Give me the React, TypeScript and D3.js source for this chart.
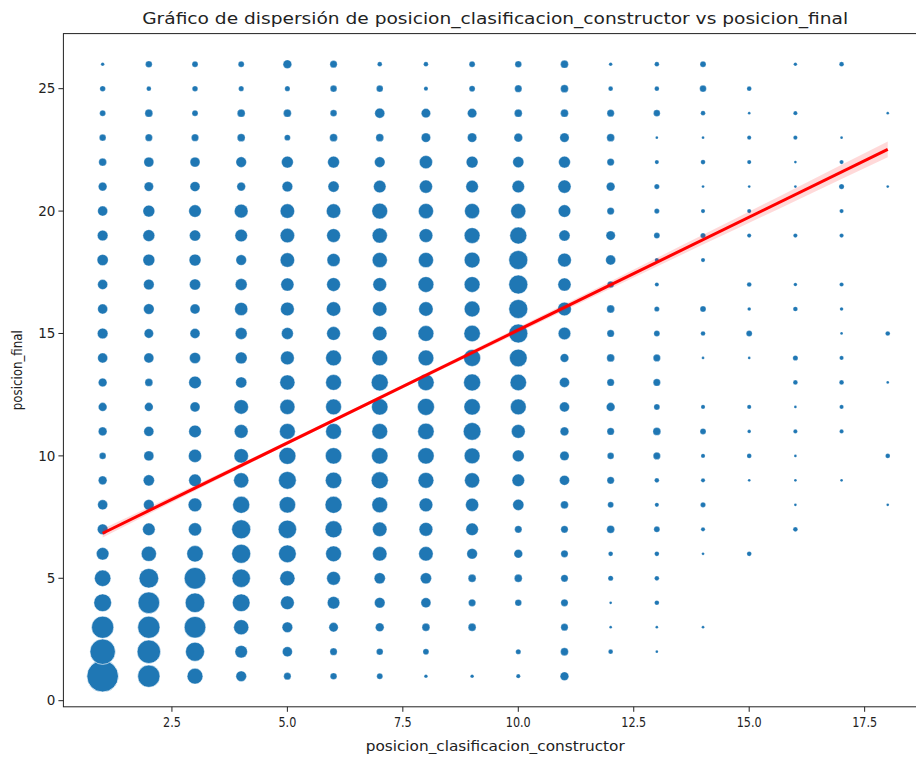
import React from "react";
import * as d3 from "d3";

// Grid of observed values
const xValues = [1, 2, 3, 4, 5, 6, 7, 8, 9, 10, 11, 12, 13, 14, 15, 16, 17, 18];
const yValues = [1, 2, 3, 4, 5, 6, 7, 8, 9, 10, 11, 12, 13, 14, 15, 16, 17, 18, 19, 20, 21, 22, 23, 24, 25, 26];

// Number of records per (posicion_clasificacion_constructor, posicion_final);
// one row per constructor position, columns are posicion_final 1..26
const countsByX: number[][] = [
  [251, 160, 121, 75, 64, 36, 25, 22, 16, 9, 16, 16, 16, 22, 25, 22, 22, 28, 25, 22, 16, 13, 9, 7, 6, 2],
  [121, 136, 121, 114, 93, 54, 36, 25, 28, 22, 22, 16, 13, 22, 19, 25, 25, 32, 32, 32, 19, 22, 11, 13, 4, 9],
  [59, 87, 114, 93, 114, 64, 40, 44, 36, 40, 36, 22, 36, 28, 22, 22, 28, 32, 28, 36, 22, 22, 11, 7, 6, 7],
  [25, 36, 54, 75, 81, 87, 87, 69, 54, 49, 44, 49, 28, 32, 32, 40, 32, 25, 36, 44, 16, 25, 13, 13, 5, 7],
  [11, 22, 25, 44, 54, 75, 81, 64, 75, 69, 59, 54, 54, 44, 32, 44, 40, 49, 49, 49, 25, 32, 7, 13, 5, 16],
  [9, 11, 19, 36, 44, 59, 69, 69, 64, 64, 59, 59, 59, 59, 44, 49, 44, 40, 44, 49, 28, 32, 13, 9, 9, 11],
  [7, 9, 16, 25, 28, 49, 49, 59, 69, 64, 59, 64, 69, 59, 49, 49, 44, 54, 54, 59, 36, 25, 13, 22, 9, 4],
  [2, 7, 13, 22, 28, 49, 44, 44, 59, 64, 64, 69, 64, 59, 59, 49, 59, 54, 44, 54, 40, 40, 19, 19, 3, 4],
  [2, 0, 13, 11, 13, 25, 36, 40, 54, 59, 75, 64, 69, 69, 64, 59, 59, 59, 59, 54, 36, 32, 19, 19, 7, 7],
  [3, 5, 0, 9, 13, 16, 11, 28, 36, 32, 44, 59, 64, 75, 87, 87, 87, 87, 69, 54, 36, 28, 16, 13, 11, 9],
  [16, 13, 11, 11, 11, 11, 11, 13, 22, 19, 16, 22, 22, 16, 36, 44, 40, 44, 28, 36, 40, 32, 19, 13, 13, 13],
  [0, 4, 1, 1, 5, 4, 13, 7, 11, 9, 11, 16, 11, 13, 11, 13, 9, 22, 19, 11, 16, 11, 13, 11, 4, 2],
  [0, 1, 1, 4, 4, 4, 7, 3, 4, 11, 13, 7, 11, 11, 7, 5, 3, 3, 7, 5, 5, 3, 1, 9, 4, 4],
  [0, 0, 1, 0, 0, 1, 3, 5, 3, 3, 7, 3, 0, 1, 4, 7, 0, 3, 5, 3, 1, 4, 1, 4, 9, 7],
  [0, 0, 0, 0, 0, 4, 0, 0, 1, 4, 2, 3, 0, 1, 7, 2, 4, 0, 3, 3, 1, 3, 3, 1, 4, 0],
  [0, 0, 0, 0, 0, 0, 4, 1, 1, 1, 3, 1, 4, 5, 0, 4, 2, 0, 3, 0, 1, 1, 3, 3, 0, 2],
  [0, 0, 0, 0, 0, 0, 0, 0, 1, 0, 3, 3, 4, 3, 1, 2, 3, 0, 3, 3, 5, 3, 1, 0, 0, 4],
  [0, 0, 0, 0, 0, 0, 0, 1, 0, 4, 0, 0, 1, 0, 4, 0, 0, 0, 0, 0, 1, 0, 0, 1, 0, 0],
];

// Linear fit and its confidence band half-width along x
const fitSlope = 0.9224;
const fitIntercept = 5.918;
const ciX = [1, 2, 4, 6, 8, 10, 12, 14, 16, 18];
const ciHalf = [0.17, 0.14, 0.09, 0.07, 0.08, 0.11, 0.15, 0.2, 0.26, 0.32];

const xTicks = [2.5, 5.0, 7.5, 10.0, 12.5, 15.0, 17.5];
const yTicks = [0, 5, 10, 15, 20, 25];

const TITLE = "Gráfico de dispersión de posicion_clasificacion_constructor vs posicion_final";
const X_LABEL = "posicion_clasificacion_constructor";
const Y_LABEL = "posicion_final";

const W = 916;
const H = 757;
const left = 63.4;
const right = 927;
const top = 33.6;
const bottom = 706.8;

export default function App() {
  const x = d3.scaleLinear().domain([0.15, 18.85]).range([left, right]);
  const y = d3.scaleLinear().domain([-0.25, 27.25]).range([bottom, top]);
  const r = d3.scaleSqrt().domain([0, 250]).range([0.4, 15.8]);

  const points: { xv: number; yv: number; n: number }[] = [];
  xValues.forEach((xv, i) => {
    yValues.forEach((yv, j) => {
      const n = countsByX[i][j];
      if (n > 0) points.push({ xv, yv, n });
    });
  });

  const fit = (v: number) => fitIntercept + fitSlope * v;
  const band = d3
    .area<number>()
    .x((v) => x(v))
    .y0((v, i) => y(fit(v) - ciHalf[i]))
    .y1((v, i) => y(fit(v) + ciHalf[i]))
    .curve(d3.curveMonotoneX);
  const line = d3
    .line<number>()
    .x((v) => x(v))
    .y((v) => y(fit(v)));

  const font = "'DejaVu Sans', sans-serif";

  return (
    <svg
      width={W}
      height={H}
      style={{ position: "absolute", left: 0, top: 0, background: "#fff" }}
      fontFamily={font}
    >
      <defs>
        <clipPath id="plot-area">
          <rect x={left} y={top} width={right - left} height={bottom - top} />
        </clipPath>
      </defs>

      <g clipPath="url(#plot-area)">
        {points.map((p, k) => {
          const rad = r(p.n);
          return (
            <circle
              key={k}
              cx={x(p.xv)}
              cy={y(p.yv)}
              r={rad}
              fill="#1f77b4"
              stroke="#fff"
              strokeWidth={Math.min(0.8, 0.12 + rad * 0.04)}
            />
          );
        })}
        <path d={band(ciX) || ""} fill="rgba(255,0,0,0.15)" stroke="none" />
        <path d={line([xValues[0], xValues[xValues.length - 1]]) || ""} stroke="#ff0000" strokeWidth={3} fill="none" />
      </g>

      {/* frame */}
      <rect x={left} y={top} width={right - left} height={bottom - top} fill="none" stroke="#222" strokeWidth={1} />

      {/* x axis */}
      {xTicks.map((t) => (
        <g key={t} transform={`translate(${x(t)},${bottom})`}>
          <line y1={0} y2={5} stroke="#222" strokeWidth={1} />
          <text y={20} textAnchor="middle" fontSize={14} fill="#222" transform="scale(0.8,1)">
            {t.toFixed(1)}
          </text>
        </g>
      ))}

      {/* y axis */}
      {yTicks.map((t) => (
        <g key={t} transform={`translate(${left},${y(t)})`}>
          <line x1={0} x2={-5} stroke="#222" strokeWidth={1} />
          <text x={-8} dy="0.35em" textAnchor="end" fontSize={13.5} fill="#222">
            {t}
          </text>
        </g>
      ))}

      <text
        x={(left + right) / 2}
        y={24}
        textAnchor="middle"
        fontSize={16}
        fill="#222"
        textLength={706}
        lengthAdjust="spacingAndGlyphs"
      >
        {TITLE}
      </text>
      <text
        x={(left + right) / 2}
        y={751}
        textAnchor="middle"
        fontSize={13.5}
        fill="#222"
        textLength={259}
        lengthAdjust="spacingAndGlyphs"
      >
        {X_LABEL}
      </text>
      <text
        transform={`translate(22,${(top + bottom) / 2}) rotate(-90)`}
        textAnchor="middle"
        fontSize={13.5}
        fill="#222"
        textLength={80}
        lengthAdjust="spacingAndGlyphs"
      >
        {Y_LABEL}
      </text>
    </svg>
  );
}
